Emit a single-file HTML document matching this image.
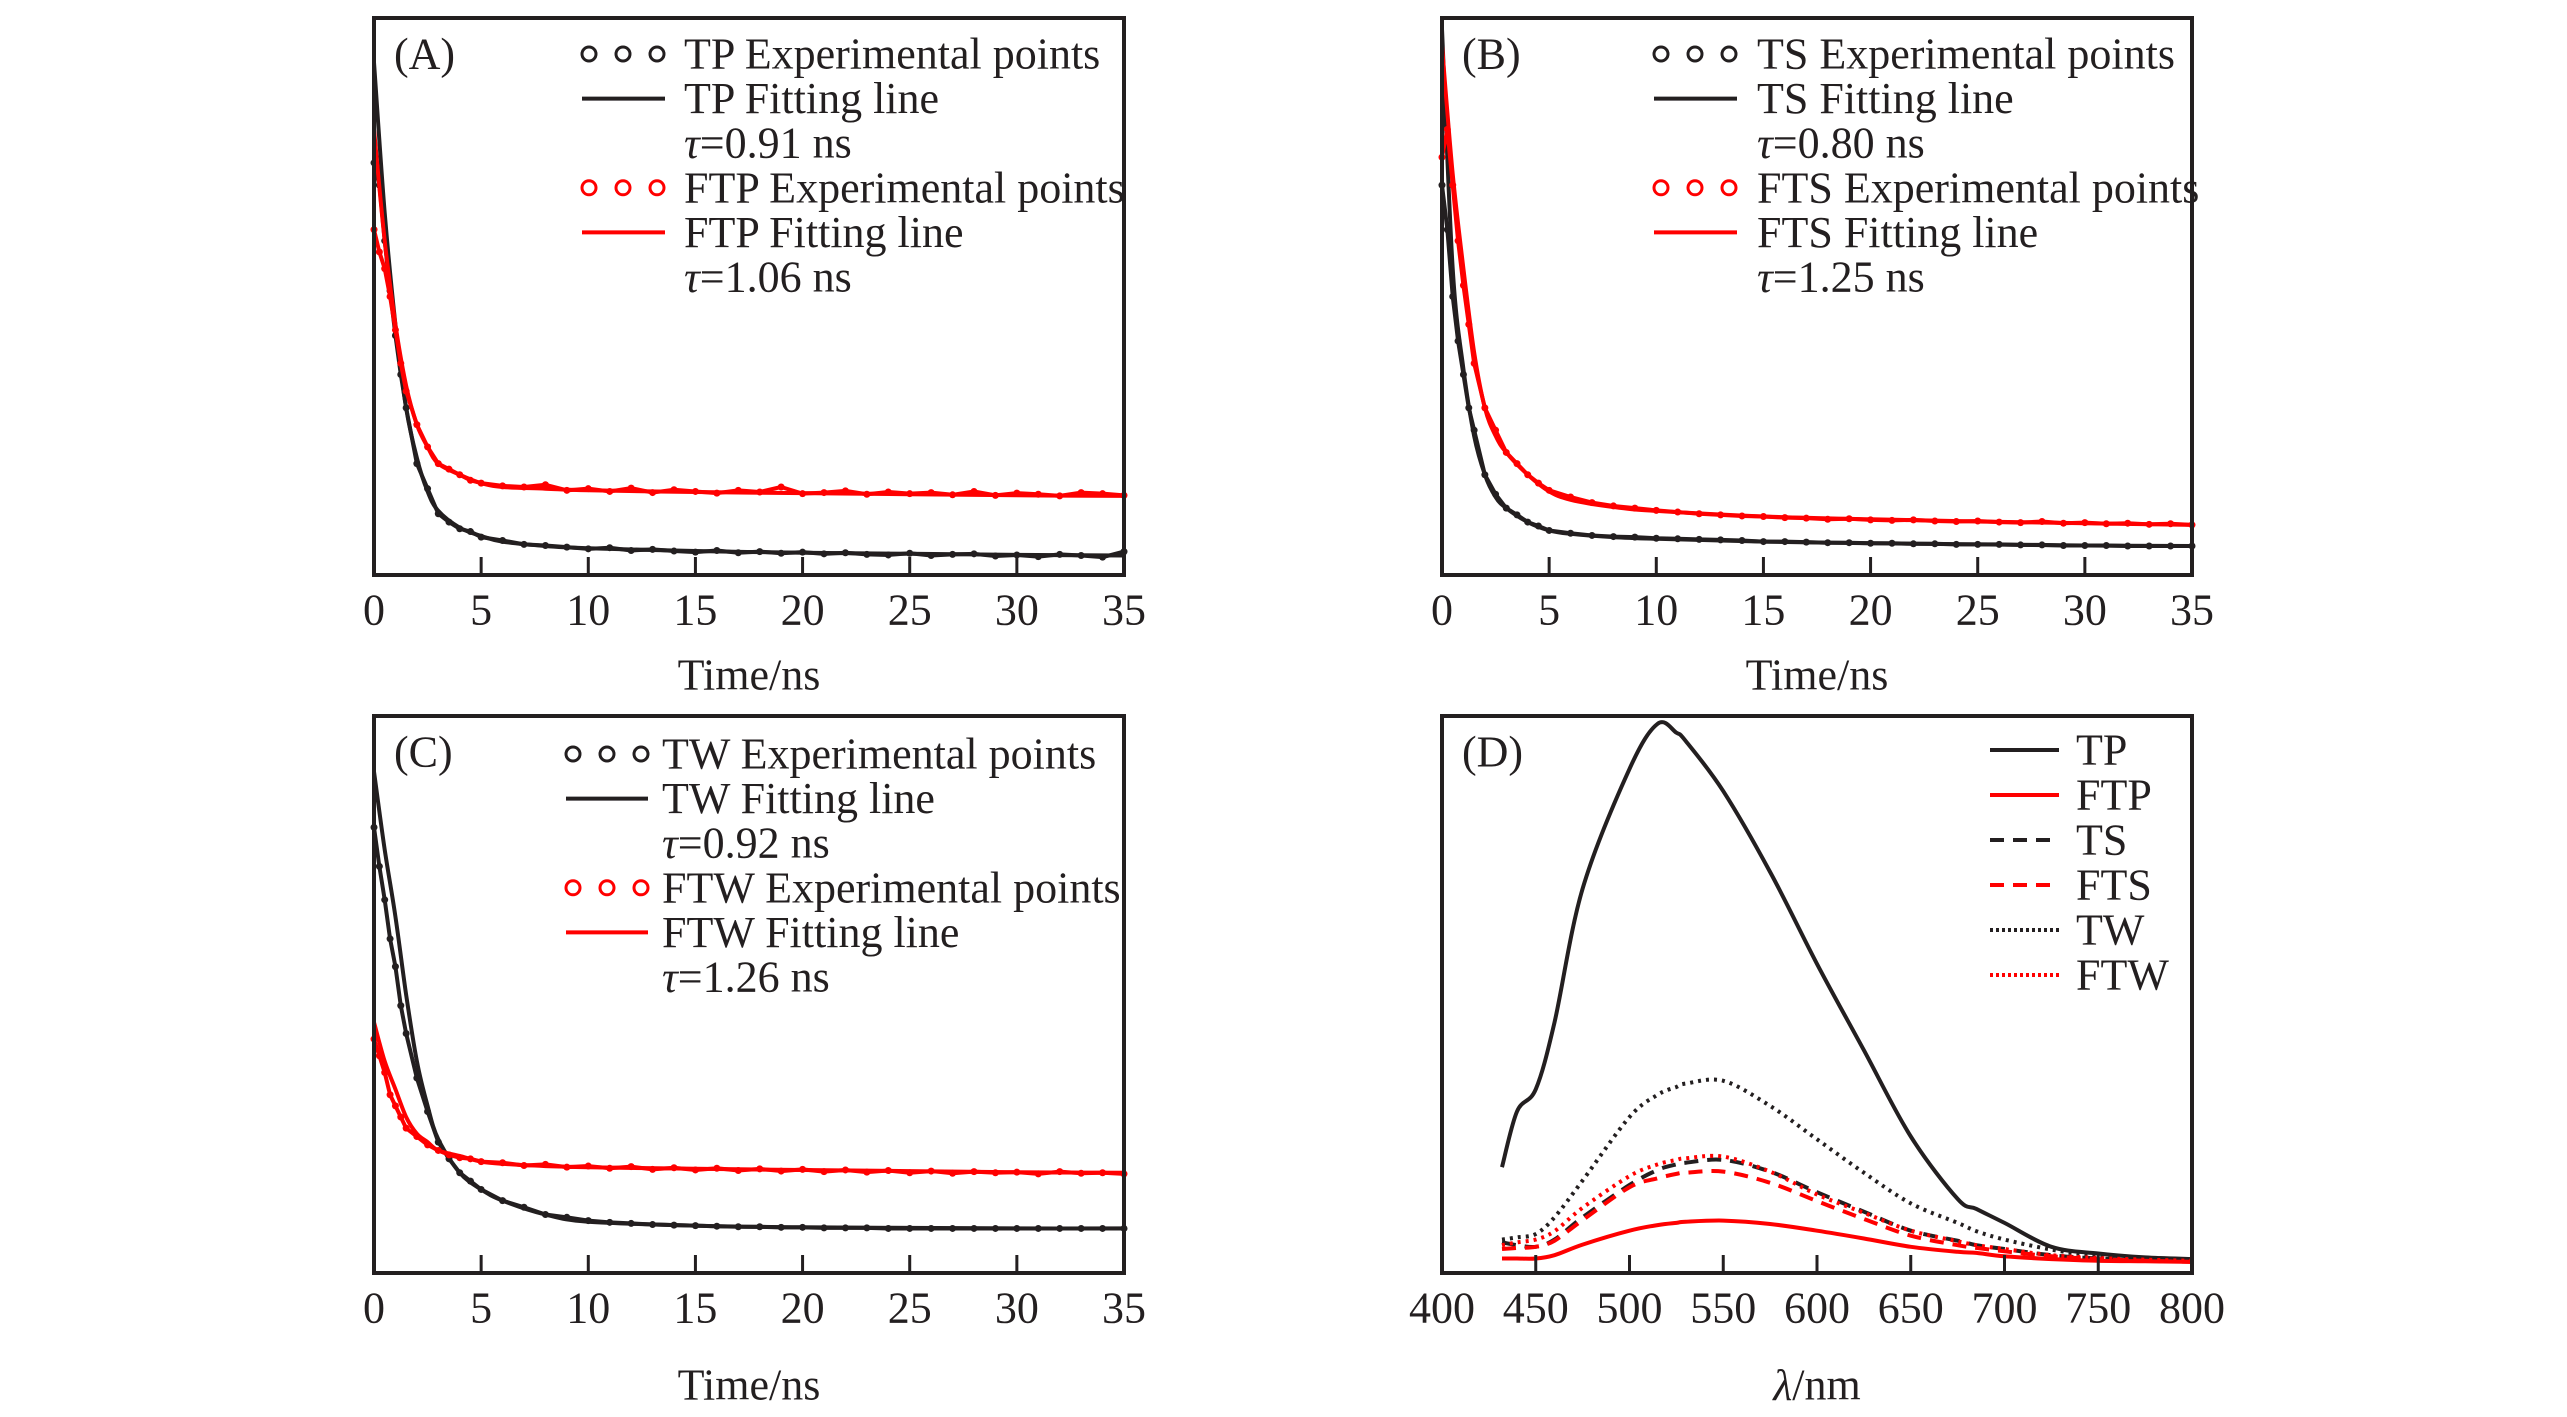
<!DOCTYPE html>
<html><head><meta charset="utf-8"><style>
html,body{margin:0;padding:0;background:#fff;}
svg{display:block;}
text{font-family:"Liberation Serif","Times New Roman",serif;fill:#231f20;}
</style></head><body>
<svg id="fig" width="2567" height="1417" viewBox="0 0 2567 1417" xmlns="http://www.w3.org/2000/svg" font-family="Liberation Serif, serif"></svg>
<script>
// ---- decay data (values as fraction of panel height) ----
const fitTimes = [0,0.5,1,1.5,2,2.5,3,4,5,6,8,10,15,20,25,30,35];
const expTimes = [0,0.25,0.5,0.75,1,1.25,1.5,2,2.5,3,3.5,4,4.5,5,6,7,8,9,10,11,12,13,14,15,16,17,18,19,20,21,22,23,24,25,26,27,28,29,30,31,32,33,34,35];
const tpFit = [0.92,0.65,0.45,0.3,0.21,0.15,0.115,0.085,0.07,0.06,0.052,0.048,0.043,0.04,0.038,0.036,0.035];
const tpExp = [0.74,0.7,0.6,0.51,0.43,0.36,0.3,0.2,0.155,0.11,0.095,0.083,0.078,0.068,0.062,0.055,0.053,0.05,0.047,0.049,0.044,0.046,0.043,0.041,0.044,0.04,0.042,0.039,0.041,0.038,0.04,0.037,0.036,0.039,0.035,0.037,0.038,0.034,0.036,0.033,0.037,0.035,0.032,0.042];
const ftpFit = [0.8,0.6,0.45,0.34,0.27,0.23,0.2,0.18,0.165,0.158,0.155,0.152,0.149,0.147,0.145,0.143,0.142];
const ftpExp = [0.62,0.58,0.55,0.5,0.44,0.38,0.33,0.27,0.23,0.2,0.19,0.18,0.17,0.165,0.16,0.158,0.162,0.152,0.155,0.15,0.156,0.148,0.153,0.15,0.147,0.152,0.149,0.158,0.146,0.148,0.151,0.145,0.149,0.146,0.148,0.144,0.15,0.143,0.147,0.145,0.142,0.148,0.146,0.143];
const tsFit = [0.98,0.55,0.37,0.25,0.18,0.14,0.12,0.095,0.08,0.074,0.068,0.065,0.06,0.057,0.055,0.053,0.052];
const tsExp = [0.7,0.62,0.5,0.42,0.36,0.3,0.26,0.18,0.145,0.12,0.108,0.095,0.088,0.08,0.075,0.071,0.069,0.068,0.066,0.065,0.064,0.063,0.062,0.06,0.06,0.059,0.058,0.058,0.057,0.057,0.056,0.056,0.055,0.055,0.055,0.054,0.054,0.053,0.053,0.053,0.052,0.052,0.052,0.052];
const ftsFit = [0.95,0.72,0.55,0.4,0.3,0.25,0.22,0.18,0.15,0.135,0.122,0.115,0.105,0.1,0.096,0.093,0.09];
const ftsExp = [0.75,0.8,0.7,0.6,0.52,0.45,0.38,0.3,0.26,0.22,0.2,0.18,0.165,0.152,0.14,0.13,0.124,0.12,0.116,0.113,0.11,0.108,0.106,0.105,0.103,0.102,0.1,0.101,0.099,0.098,0.099,0.097,0.096,0.097,0.095,0.094,0.096,0.093,0.094,0.092,0.093,0.091,0.092,0.09];
const twFit = [0.9,0.76,0.64,0.5,0.38,0.3,0.24,0.18,0.15,0.13,0.105,0.092,0.085,0.082,0.081,0.08,0.08];
const twExp = [0.8,0.73,0.67,0.6,0.55,0.48,0.43,0.35,0.29,0.235,0.205,0.18,0.165,0.15,0.13,0.118,0.105,0.1,0.094,0.091,0.089,0.087,0.086,0.085,0.084,0.083,0.083,0.082,0.082,0.081,0.081,0.081,0.08,0.08,0.08,0.08,0.08,0.08,0.08,0.08,0.08,0.08,0.08,0.08];
const ftwFit = [0.45,0.38,0.33,0.28,0.25,0.235,0.22,0.21,0.2,0.196,0.192,0.19,0.187,0.185,0.183,0.181,0.18];
const ftwExp = [0.42,0.39,0.36,0.32,0.3,0.28,0.26,0.245,0.23,0.22,0.212,0.207,0.205,0.2,0.198,0.193,0.195,0.19,0.192,0.188,0.191,0.186,0.189,0.185,0.188,0.184,0.187,0.183,0.186,0.182,0.185,0.181,0.184,0.18,0.183,0.179,0.182,0.18,0.181,0.178,0.182,0.179,0.18,0.178];
const timeTicks = [0,5,10,15,20,25,30,35];
// ---- emission spectra ----
const wl = [432,440,450,460,475,500,515,525,530,550,575,600,625,650,675,685,700,725,750,775,800];
const specTP = [0.19,0.29,0.33,0.45,0.69,0.905,0.986,0.97,0.955,0.865,0.72,0.555,0.4,0.245,0.133,0.115,0.09,0.047,0.035,0.028,0.025];
const specTW = [0.06,0.064,0.07,0.1,0.166,0.28,0.32,0.334,0.34,0.345,0.3,0.24,0.18,0.125,0.09,0.075,0.06,0.042,0.03,0.025,0.022];
const specTS = [0.055,0.05,0.047,0.06,0.1,0.158,0.185,0.195,0.198,0.203,0.182,0.145,0.11,0.076,0.058,0.05,0.043,0.032,0.026,0.024,0.022];
const specFTS = [0.043,0.045,0.047,0.058,0.095,0.154,0.17,0.178,0.18,0.182,0.162,0.129,0.097,0.067,0.05,0.045,0.039,0.03,0.025,0.022,0.02];
const specFTW = [0.05,0.055,0.06,0.075,0.117,0.174,0.195,0.203,0.206,0.209,0.182,0.141,0.108,0.076,0.057,0.05,0.043,0.032,0.027,0.024,0.022];
const specFTP = [0.026,0.026,0.026,0.032,0.051,0.076,0.086,0.09,0.092,0.094,0.088,0.076,0.062,0.047,0.038,0.036,0.03,0.025,0.022,0.021,0.02];
const wlTicks = [400,450,500,550,600,650,700,750,800];

const NS='http://www.w3.org/2000/svg';
const svg=document.getElementById('fig');
function el(tag,attrs,parent){const e=document.createElementNS(NS,tag);for(const k in attrs)e.setAttribute(k,attrs[k]);(parent||svg).appendChild(e);return e;}
function txt(s,x,y,size,parent,anchor){const t=el('text',{x:x,y:y,'font-size':size,'font-family':'Liberation Serif, serif','text-anchor':anchor||'start','dominant-baseline':'central'},parent);t.textContent=s;return t;}
function smooth(pts){let d='M'+pts[0][0]+','+pts[0][1];for(let i=0;i<pts.length-1;i++){const p0=pts[Math.max(0,i-1)],p1=pts[i],p2=pts[i+1],p3=pts[Math.min(pts.length-1,i+2)];const c1=[p1[0]+(p2[0]-p0[0])/6,p1[1]+(p2[1]-p0[1])/6],c2=[p2[0]-(p3[0]-p1[0])/6,p2[1]-(p3[1]-p1[1])/6];d+=' C'+c1[0].toFixed(1)+','+c1[1].toFixed(1)+' '+c2[0].toFixed(1)+','+c2[1].toFixed(1)+' '+p2[0].toFixed(1)+','+p2[1].toFixed(1);}return d;}

function panel(cfg){
  const g=el('g',{});
  
  
  const L=cfg.x0,R=cfg.x1,T=cfg.y0,B=cfg.y1,H=B-T;
  const xs=v=>L+(v-cfg.dmin)/(cfg.dmax-cfg.dmin)*(R-L);
  const ys=v=>B-v*H;
  const plot=el('g',{},g);
  
  
  cfg.series.forEach(s=>{
    if(s.exp){
      const pts=s.xs.map((t,i)=>[xs(t),ys(s.exp[i])]);
      const pl=el('polyline',{points:pts.map(p=>p.join(',')).join(' '),fill:'none',stroke:s.color,'stroke-width':4,'stroke-linejoin':'round'},plot);
      
      
      pts.forEach(p=>{const c=el('circle',{cx:p[0],cy:p[1],r:3.5,fill:s.color},plot);
        
        });
    }
    if(s.fit){
      const pts=s.fx.map((t,i)=>[xs(t),ys(s.fit[i])]);
      const p=el('path',{d:smooth(pts),fill:'none',stroke:s.color,'stroke-width':s.w||4,'stroke-dasharray':s.dash||'none'},plot);
      
      
    }
  });
  const fr=el('rect',{x:L,y:T,width:R-L,height:H,fill:'none',stroke:'#231f20','stroke-width':4},g);
  
  
  cfg.ticks.forEach(v=>{
    const x=xs(v);
    if(v!==cfg.dmin&&v!==cfg.dmax){const tk=el('line',{x1:x,x2:x,y1:B,y2:B-18,stroke:'#231f20','stroke-width':3},g);
      
      }
    const lb=txt(String(v),x,B+35,44,g,'middle');
    
    
  });
  const ti=el('text',{x:(L+R)/2,y:B+cfg.titleDy,'font-size':44,'font-family':'Liberation Serif, serif','text-anchor':'middle','dominant-baseline':'central'},g);
  
  
  ti.innerHTML=cfg.title;
  const pl=txt(cfg.label,L+20,T+36,44,g);
  
  
  const lg=el('g',{},g);
  
  
  cfg.legend.forEach((e,i)=>{
    const y=cfg.legY+i*cfg.legStep;
    const en=el('g',{},lg);
    
    
    if(e.type==='pts'){[0,1,2].forEach(k=>el('circle',{cx:cfg.legX0+7+k*34,cy:y,r:7,fill:'none',stroke:e.color,'stroke-width':3},en));}
    else if(e.type==='line'){el('line',{x1:cfg.legX0,x2:cfg.legX1,y1:y,y2:y,stroke:e.color,'stroke-width':4,'stroke-dasharray':e.dash||'none'},en);}
    const t=el('text',{x:cfg.legT,y:y,'font-size':44,'font-family':'Liberation Serif, serif','dominant-baseline':'central'},en);
    t.innerHTML=e.text;
  });
}
function decayLegend(a,b,ta,tb){return [
 {type:'pts',color:'#231f20',text:a+' Experimental points'},
 {type:'line',color:'#231f20',text:a+' Fitting line'},
 {type:'none',text:'<tspan font-style="italic">τ</tspan>='+ta+' ns'},
 {type:'pts',color:'#ff0000',text:b+' Experimental points'},
 {type:'line',color:'#ff0000',text:b+' Fitting line'},
 {type:'none',text:'<tspan font-style="italic">τ</tspan>='+tb+' ns'}];}
function dser(k1,e1,f1,k2,e2,f2){return [
 {key:k1,color:'#231f20',xs:expTimes,exp:e1,fx:fitTimes,fit:f1},
 {key:k2,color:'#ff0000',xs:expTimes,exp:e2,fx:fitTimes,fit:f2}];}

panel({name:'panel-a',x0:374,x1:1124,y0:18,y1:575,dmin:0,dmax:35,ticks:timeTicks,title:'Time/ns',titleDy:100,label:'(A)',
 series:dser('tp',tpExp,tpFit,'ftp',ftpExp,ftpFit),legend:decayLegend('TP','FTP','0.91','1.06'),legX0:582,legX1:665,legT:684,legY:54,legStep:44.6});
panel({name:'panel-b',x0:1442,x1:2192,y0:18,y1:575,dmin:0,dmax:35,ticks:timeTicks,title:'Time/ns',titleDy:100,label:'(B)',
 series:dser('ts',tsExp,tsFit,'fts',ftsExp,ftsFit),legend:decayLegend('TS','FTS','0.80','1.25'),legX0:1654,legX1:1737,legT:1757,legY:54,legStep:44.6});
panel({name:'panel-c',x0:374,x1:1124,y0:716,y1:1273,dmin:0,dmax:35,ticks:timeTicks,title:'Time/ns',titleDy:112,label:'(C)',
 series:dser('tw',twExp,twFit,'ftw',ftwExp,ftwFit),legend:decayLegend('TW','FTW','0.92','1.26'),legX0:566,legX1:648,legT:662,legY:754,legStep:44.6});
panel({name:'panel-d',x0:1442,x1:2192,y0:716,y1:1273,dmin:400,dmax:800,ticks:wlTicks,title:'<tspan font-style="italic">λ</tspan>/nm',titleDy:112,label:'(D)',
 series:[
  {key:'tp',color:'#231f20',fx:wl,fit:specTP},
  {key:'tw',color:'#231f20',fx:wl,fit:specTW,dash:'3 5'},
  {key:'ts',color:'#231f20',fx:wl,fit:specTS,dash:'14 9'},
  {key:'fts',color:'#ff0000',fx:wl,fit:specFTS,dash:'14 9'},
  {key:'ftw',color:'#ff0000',fx:wl,fit:specFTW,dash:'3 5'},
  {key:'ftp',color:'#ff0000',fx:wl,fit:specFTP}],
 legend:[
  {type:'line',color:'#231f20',text:'TP'},
  {type:'line',color:'#ff0000',text:'FTP'},
  {type:'line',color:'#231f20',text:'TS',dash:'14 9'},
  {type:'line',color:'#ff0000',text:'FTS',dash:'14 9'},
  {type:'line',color:'#231f20',text:'TW',dash:'3 3'},
  {type:'line',color:'#ff0000',text:'FTW',dash:'3 3'}],
 legX0:1990,legX1:2059,legT:2076,legY:750,legStep:45});
</script>
</body></html>
